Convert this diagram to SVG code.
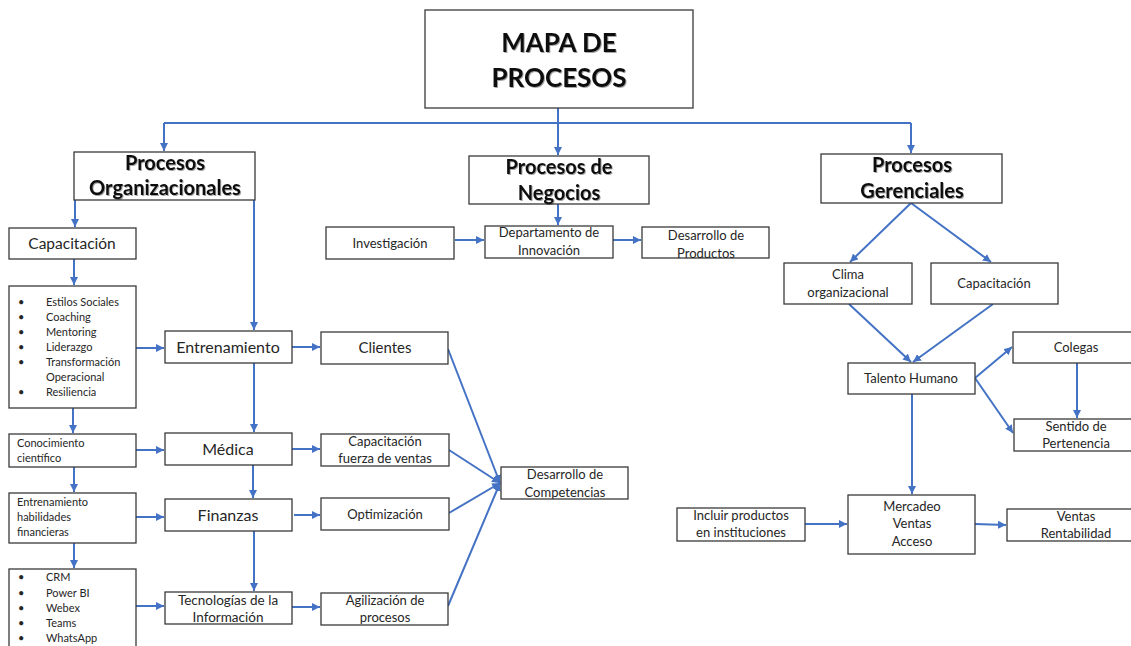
<svg xmlns="http://www.w3.org/2000/svg" width="1131" height="646" viewBox="0 0 1131 646">
  <style>
    .box { fill: #ffffff; stroke: #3a3a3a; stroke-width: 1.3; }
    .t { font-family: Lato, "Open Sans", sans-serif; fill: #262626; text-anchor: middle; }
    .tl { font-family: Lato, "Open Sans", sans-serif; fill: #262626; text-anchor: start; }
    .h { font-family: Lato, "Open Sans", sans-serif; font-weight: bold; fill: #111111; text-anchor: middle; filter: url(#shadow); }
    .hs { font-size: 20px; }
    .s { font-size: 13px; }
    .xs { font-size: 11px; }
    .m { font-size: 15.5px; }
    .c { fill: none; stroke: #4472C4; stroke-width: 2; }
  </style>
  <defs>
    <marker id="arr" markerUnits="userSpaceOnUse" markerWidth="9" markerHeight="8" refX="8" refY="4" orient="auto">
      <path d="M0,0 L8,4 L0,8 z" fill="#4472C4"/>
    </marker>
    <filter id="shadow" x="-10%" y="-20%" width="120%" height="140%">
      <feDropShadow dx="1" dy="1" stdDeviation="0.6" flood-color="#000000" flood-opacity="0.35"/>
    </filter>
  </defs>
  <rect width="1131" height="646" fill="#ffffff"/>

  <!-- connectors -->
  <g id="connectors">
    <!-- top distribution bar -->
    <path class="c" d="M558,108 L558,123"/>
    <path class="c" d="M164,123 L911,123"/>
    <path class="c" d="M164,123 L164,151" marker-end="url(#arr)"/>
    <path class="c" d="M558,123 L558,155" marker-end="url(#arr)"/>
    <path class="c" d="M911,123 L911,153" marker-end="url(#arr)"/>

    <!-- organizational column -->
    <path class="c" d="M75,200 L75,227" marker-end="url(#arr)"/>
    <path class="c" d="M74,259 L74,285" marker-end="url(#arr)"/>
    <path class="c" d="M73,408 L73,433" marker-end="url(#arr)"/>
    <path class="c" d="M74,467 L74,492" marker-end="url(#arr)"/>
    <path class="c" d="M74,543 L74,568" marker-end="url(#arr)"/>
    <path class="c" d="M254,200 L254,330" marker-end="url(#arr)"/>
    <path class="c" d="M254,363 L254,432" marker-end="url(#arr)"/>
    <path class="c" d="M253,465 L253,498" marker-end="url(#arr)"/>
    <path class="c" d="M254,531 L254,591" marker-end="url(#arr)"/>
    <path class="c" d="M136,348 L164,348" marker-end="url(#arr)"/>
    <path class="c" d="M136,450 L164,450" marker-end="url(#arr)"/>
    <path class="c" d="M136,517 L164,517" marker-end="url(#arr)"/>
    <path class="c" d="M136,606 L164,606" marker-end="url(#arr)"/>
    <path class="c" d="M292,347 L320,347" marker-end="url(#arr)"/>
    <path class="c" d="M292,449 L320,449" marker-end="url(#arr)"/>
    <path class="c" d="M294,515 L320,515" marker-end="url(#arr)"/>
    <path class="c" d="M292,607 L320,607" marker-end="url(#arr)"/>
    <path class="c" d="M448,349 L500,483" marker-end="url(#arr)"/>
    <path class="c" d="M449,450 L500,483" marker-end="url(#arr)"/>
    <path class="c" d="M449,513 L500,483" marker-end="url(#arr)"/>
    <path class="c" d="M448,606 L500,483" marker-end="url(#arr)"/>

    <!-- business column -->
    <path class="c" d="M558,204 L558,225" marker-end="url(#arr)"/>
    <path class="c" d="M455,240 L484,240" marker-end="url(#arr)"/>
    <path class="c" d="M613,240 L641,240" marker-end="url(#arr)"/>

    <!-- management column -->
    <path class="c" d="M911,203 L850,262" marker-end="url(#arr)"/>
    <path class="c" d="M911,203 L991,262" marker-end="url(#arr)"/>
    <path class="c" d="M849,304 L911,362" marker-end="url(#arr)"/>
    <path class="c" d="M993,304 L913,362" marker-end="url(#arr)"/>
    <path class="c" d="M975,378 L1012,347" marker-end="url(#arr)"/>
    <path class="c" d="M975,378 L1013,433" marker-end="url(#arr)"/>
    <path class="c" d="M1077,363 L1077,418" marker-end="url(#arr)"/>
    <path class="c" d="M912,394 L912,494" marker-end="url(#arr)"/>
    <path class="c" d="M805,524 L847,524" marker-end="url(#arr)"/>
    <path class="c" d="M975,524 L1006,525" marker-end="url(#arr)"/>
  </g>

  <!-- title -->
  <g id="mapa">
    <rect class="box" x="425" y="10" width="268" height="98"/>
    <text class="h" x="559" y="52" font-size="26">MAPA DE</text>
    <text class="h" x="559" y="87" font-size="26">PROCESOS</text>
  </g>

  <!-- organizational processes -->
  <g id="procesos-organizacionales">
    <rect class="box" x="74" y="152" width="181" height="48"/>
    <text class="h hs" x="165" y="170">Procesos</text>
    <text class="h hs" x="165" y="195">Organizacionales</text>
  </g>
  <g id="capacitacion-org">
    <rect class="box" x="9" y="228" width="127" height="31"/>
    <text class="t m" x="72" y="249">Capacitación</text>
  </g>
  <g id="lista-habilidades">
    <rect class="box" x="9" y="286" width="127" height="122"/>
    <g class="tl xs">
      <text x="18" y="306">•</text><text x="46" y="306">Estilos Sociales</text>
      <text x="18" y="321">•</text><text x="46" y="321">Coaching</text>
      <text x="18" y="336">•</text><text x="46" y="336">Mentoring</text>
      <text x="18" y="351">•</text><text x="46" y="351">Liderazgo</text>
      <text x="18" y="366">•</text><text x="46" y="366">Transformación</text>
      <text x="46" y="381">Operacional</text>
      <text x="18" y="396">•</text><text x="46" y="396">Resiliencia</text>
    </g>
  </g>
  <g id="conocimiento">
    <rect class="box" x="9" y="434" width="127" height="33"/>
    <text class="tl xs" x="17" y="447">Conocimiento</text>
    <text class="tl xs" x="17" y="462">científico</text>
  </g>
  <g id="habilidades-financieras">
    <rect class="box" x="9" y="493" width="127" height="50"/>
    <text class="tl xs" x="17" y="506">Entrenamiento</text>
    <text class="tl xs" x="17" y="521">habilidades</text>
    <text class="tl xs" x="17" y="536">financieras</text>
  </g>
  <g id="lista-herramientas">
    <rect class="box" x="9" y="569" width="127" height="90"/>
    <g class="tl xs">
      <text x="18" y="581">•</text><text x="46" y="581">CRM</text>
      <text x="18" y="597">•</text><text x="46" y="597">Power BI</text>
      <text x="18" y="612">•</text><text x="46" y="612">Webex</text>
      <text x="18" y="627">•</text><text x="46" y="627">Teams</text>
      <text x="18" y="642">•</text><text x="46" y="642">WhatsApp</text>
    </g>
  </g>
  <g id="entrenamiento">
    <rect class="box" x="165" y="331" width="127" height="32"/>
    <text class="t" x="228" y="353" font-size="16">Entrenamiento</text>
  </g>
  <g id="medica">
    <rect class="box" x="165" y="433" width="127" height="32"/>
    <text class="t" x="228" y="455" font-size="16">Médica</text>
  </g>
  <g id="finanzas">
    <rect class="box" x="165" y="499" width="127" height="32"/>
    <text class="t" x="228" y="521" font-size="16">Finanzas</text>
  </g>
  <g id="tecnologias">
    <rect class="box" x="165" y="592" width="127" height="32"/>
    <text class="t" x="228" y="605" font-size="13.5">Tecnologías de la</text>
    <text class="t" x="228" y="622" font-size="13.5">Información</text>
  </g>
  <g id="clientes">
    <rect class="box" x="321" y="332" width="127" height="32"/>
    <text class="t" x="385" y="353" font-size="15">Clientes</text>
  </g>
  <g id="capacitacion-ventas">
    <rect class="box" x="321" y="434" width="128" height="32"/>
    <text class="t s" x="385" y="446">Capacitación</text>
    <text class="t s" x="385" y="463">fuerza de ventas</text>
  </g>
  <g id="optimizacion">
    <rect class="box" x="321" y="498" width="128" height="32"/>
    <text class="t s" x="385" y="519">Optimización</text>
  </g>
  <g id="agilizacion">
    <rect class="box" x="321" y="593" width="127" height="32"/>
    <text class="t s" x="385" y="605">Agilización de</text>
    <text class="t s" x="385" y="622">procesos</text>
  </g>
  <g id="desarrollo-competencias">
    <rect class="box" x="501" y="467" width="127" height="32"/>
    <text class="t s" x="565" y="479">Desarrollo de</text>
    <text class="t s" x="565" y="497">Competencias</text>
  </g>

  <!-- business processes -->
  <g id="procesos-negocios">
    <rect class="box" x="469" y="156" width="180" height="48"/>
    <text class="h hs" x="559" y="174">Procesos de</text>
    <text class="h hs" x="559" y="200">Negocios</text>
  </g>
  <g id="investigacion">
    <rect class="box" x="326" y="227" width="128" height="32"/>
    <text class="t s" x="390" y="248">Investigación</text>
  </g>
  <g id="departamento-innovacion">
    <rect class="box" x="485" y="226" width="128" height="32"/>
    <text class="t s" x="549" y="237">Departamento de</text>
    <text class="t s" x="549" y="255">Innovación</text>
  </g>
  <g id="desarrollo-productos">
    <rect class="box" x="642" y="227" width="127" height="31"/>
    <text class="t s" x="706" y="240">Desarrollo de</text>
    <text class="t s" x="706" y="258">Productos</text>
  </g>

  <!-- management processes -->
  <g id="procesos-gerenciales">
    <rect class="box" x="821" y="154" width="181" height="49"/>
    <text class="h hs" x="912" y="172">Procesos</text>
    <text class="h hs" x="912" y="198">Gerenciales</text>
  </g>
  <g id="clima">
    <rect class="box" x="784" y="263" width="128" height="41"/>
    <text class="t s" x="848" y="279">Clima</text>
    <text class="t s" x="848" y="297">organizacional</text>
  </g>
  <g id="capacitacion-ger">
    <rect class="box" x="931" y="263" width="127" height="41"/>
    <text class="t s" x="994" y="288">Capacitación</text>
  </g>
  <g id="talento-humano">
    <rect class="box" x="848" y="363" width="127" height="31"/>
    <text class="t s" x="911" y="383">Talento Humano</text>
  </g>
  <g id="colegas">
    <rect class="box" x="1013" y="332" width="130" height="31"/>
    <text class="t s" x="1076" y="352">Colegas</text>
  </g>
  <g id="sentido-pertenencia">
    <rect class="box" x="1014" y="419" width="130" height="32"/>
    <text class="t s" x="1076" y="431">Sentido de</text>
    <text class="t s" x="1076" y="448">Pertenencia</text>
  </g>
  <g id="incluir-productos">
    <rect class="box" x="677" y="508" width="128" height="33"/>
    <text class="t s" x="741" y="520">Incluir productos</text>
    <text class="t s" x="741" y="537">en instituciones</text>
  </g>
  <g id="mercadeo">
    <rect class="box" x="848" y="495" width="127" height="59"/>
    <text class="t s" x="912" y="511">Mercadeo</text>
    <text class="t s" x="912" y="528">Ventas</text>
    <text class="t s" x="912" y="546">Acceso</text>
  </g>
  <g id="ventas-rentabilidad">
    <rect class="box" x="1007" y="509" width="135" height="32"/>
    <text class="t s" x="1076" y="521">Ventas</text>
    <text class="t s" x="1076" y="538">Rentabilidad</text>
  </g>
</svg>
